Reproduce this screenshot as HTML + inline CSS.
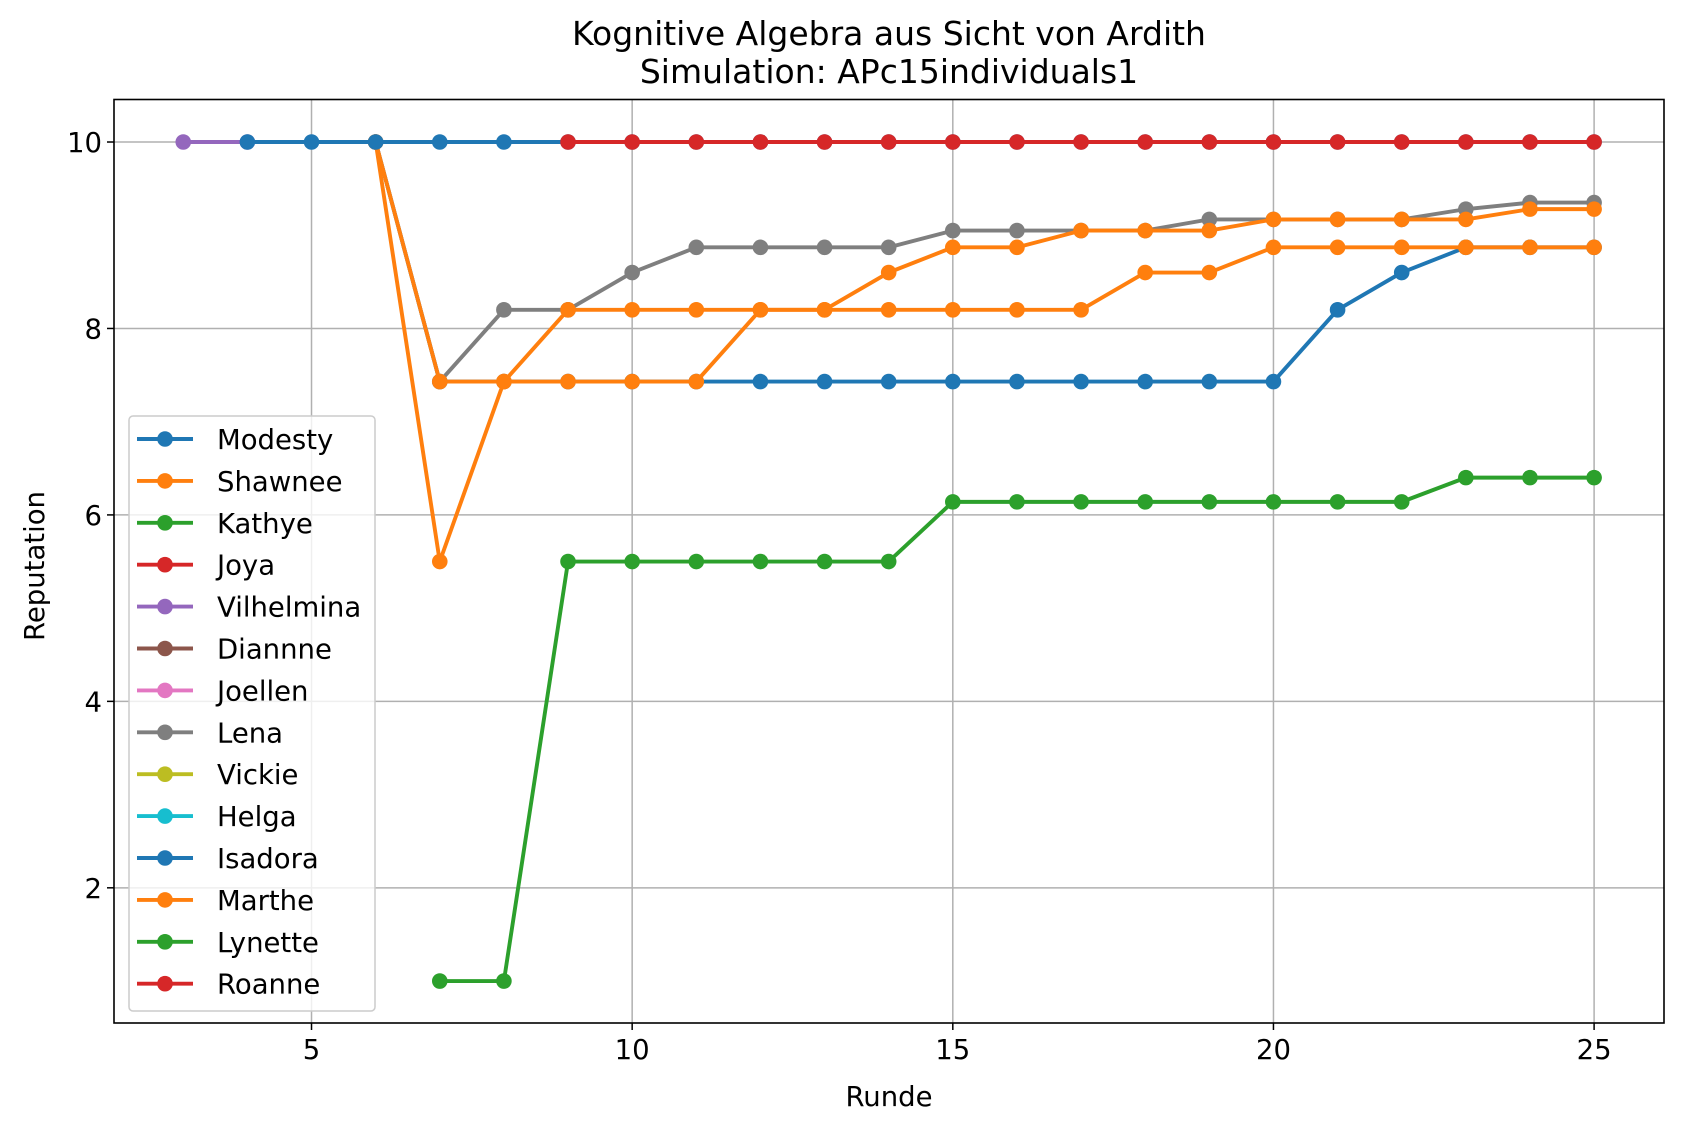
<!DOCTYPE html>
<html><head><meta charset="utf-8"><style>
body{margin:0;background:#fff}
svg text{font-family:"DejaVu Sans","Liberation Sans",sans-serif;fill:#000}
</style></head><body>
<svg id="chart" width="1683" height="1131" viewBox="0 0 1683 1131" xmlns="http://www.w3.org/2000/svg">
<rect width="1683" height="1131" fill="#fff"/>
<g id="grid"></g><g id="series"></g><g id="axes"></g><g id="legend"></g>
<text x="889" y="45" font-size="33" text-anchor="middle">Kognitive Algebra aus Sicht von Ardith</text>
<text x="889" y="83" font-size="33" text-anchor="middle">Simulation: APc15individuals1</text>
<text x="889" y="1106" font-size="27.5" text-anchor="middle">Runde</text>
<text x="44" y="566" font-size="27.5" text-anchor="middle" transform="rotate(-90 44 566)">Reputation</text>
</svg>
<script>
const xTicks=[5,10,15,20,25];
const yTicks=[2,4,6,8,10];
const names=["Modesty","Shawnee","Kathye","Joya","Vilhelmina","Diannne","Joellen","Lena","Vickie","Helga","Isadora","Marthe","Lynette","Roanne"];
const colors=["#1f77b4","#ff7f0e","#2ca02c","#d62728","#9467bd","#8c564b","#e377c2","#7f7f7f","#bcbd22","#17becf","#1f77b4","#ff7f0e","#2ca02c","#d62728"];
const sVilhelmina=[10,10];
const xVilhelmina=[3,4];
const xStart6=[6,7,8,9,10,11,12,13,14,15,16,17,18,19,20,21,22,23,24,25];
const sModesty=[10,7.43,7.43,7.43,7.43,7.43,7.43,7.43,7.43,7.43,7.43,7.43,7.43,7.43,7.43,8.2,8.6,8.87,8.87,8.87];
const sShawnee=[10,5.5,7.43,8.2,8.2,8.2,8.2,8.2,8.6,8.87,8.87,9.05,9.05,9.05,9.17,9.17,9.17,9.17,9.28,9.28];
const sMarthe=[10,7.43,7.43,7.43,7.43,7.43,8.2,8.2,8.2,8.2,8.2,8.2,8.6,8.6,8.87,8.87,8.87,8.87,8.87,8.87];
const sLena=[10,7.43,8.2,8.2,8.6,8.87,8.87,8.87,8.87,9.05,9.05,9.05,9.05,9.17,9.17,9.17,9.17,9.28,9.35,9.35];
const xLynette=[7,8,9,10,11,12,13,14,15,16,17,18,19,20,21,22,23,24,25];
const sLynette=[1,1,5.5,5.5,5.5,5.5,5.5,5.5,6.14,6.14,6.14,6.14,6.14,6.14,6.14,6.14,6.4,6.4,6.4];
const xIsadora=[4,5,6,7,8,9,10,11,12,13,14,15,16,17,18,19,20,21,22,23,24,25];
const sIsadora=[10,10,10,10,10,10,10,10,10,10,10,10,10,10,10,10,10,10,10,10,10,10];
const xJoya=[9,10,11,12,13,14,15,16,17,18,19,20,21,22,23,24,25];
const sJoya=[10,10,10,10,10,10,10,10,10,10,10,10,10,10,10,10,10];

const L=114,R=1664,T=99.5,B=1023,xMin=1.92,xMax=26.09,yMin=0.55,yMax=10.456;
const X=v=>L+(v-xMin)/(xMax-xMin)*(R-L);
const Y=v=>B-(v-yMin)/(yMax-yMin)*(B-T);
const NS="http://www.w3.org/2000/svg";
function mk(tag,attrs,parent){const e=document.createElementNS(NS,tag);for(const k in attrs)e.setAttribute(k,attrs[k]);parent.appendChild(e);return e;}
const grid=document.getElementById('grid'),axes=document.getElementById('axes'),ser=document.getElementById('series'),leg=document.getElementById('legend');
xTicks.forEach(t=>{
  const g=mk('line',{x1:X(t),x2:X(t),y1:T,y2:B,stroke:'#b0b0b0','stroke-width':1.5},grid);
  
  
  mk('line',{x1:X(t),x2:X(t),y1:B,y2:B+7,stroke:'#000','stroke-width':1.5},axes);
  const tx=mk('text',{x:X(t),y:B+36,'font-size':27.5,'text-anchor':'middle'},axes);tx.textContent=t;
  
  
});
yTicks.forEach(t=>{
  const g=mk('line',{x1:L,x2:R,y1:Y(t),y2:Y(t),stroke:'#b0b0b0','stroke-width':1.5},grid);
  
  
  mk('line',{x1:L-7,x2:L,y1:Y(t),y2:Y(t),stroke:'#000','stroke-width':1.5},axes);
  const tx=mk('text',{x:L-12,y:Y(t)+10,'font-size':27.5,'text-anchor':'end'},axes);tx.textContent=t;
  
  
});
const fr=mk('rect',{x:L,y:T,width:R-L,height:B-T,fill:'none',stroke:'#000','stroke-width':1.6},axes);


function draw(xs,ys,c,name){
  const g=mk('g',{},ser);
  
  
  mk('polyline',{points:xs.map((x,i)=>X(x)+','+Y(ys[i])).join(' '),fill:'none',stroke:c,'stroke-width':3.9,'stroke-linejoin':'round'},g);
  xs.forEach((x,i)=>{const p=mk('circle',{cx:X(x),cy:Y(ys[i]),r:7.8,fill:c},g);
    
    });
}
draw(xVilhelmina,sVilhelmina,colors[4],'Vilhelmina');
draw(xLynette,sLynette,colors[12],'Lynette');
draw(xStart6,sModesty,colors[0],'Modesty');
draw(xStart6,sLena,colors[7],'Lena');
draw(xStart6,sMarthe,colors[11],'Marthe');
draw(xStart6,sShawnee,colors[1],'Shawnee');
draw(xIsadora,sIsadora,colors[10],'Isadora');
draw(xJoya,sJoya,colors[3],'Joya');
const lb=mk('rect',{x:129,y:416,width:246,height:595,rx:4,fill:'#fff','fill-opacity':0.8,stroke:'#ccc','stroke-width':1.5},leg);


names.forEach((n,i)=>{
  const y=439+i*41.9;
  const g=mk('g',{},leg);
  
  
  mk('line',{x1:137,x2:193,y1:y,y2:y,stroke:colors[i],'stroke-width':3.9},g);
  mk('circle',{cx:165,cy:y,r:7.8,fill:colors[i]},g);
  const t=mk('text',{x:217,y:y+10,'font-size':27.5},g);t.textContent=n;
});
</script>
</body></html>
